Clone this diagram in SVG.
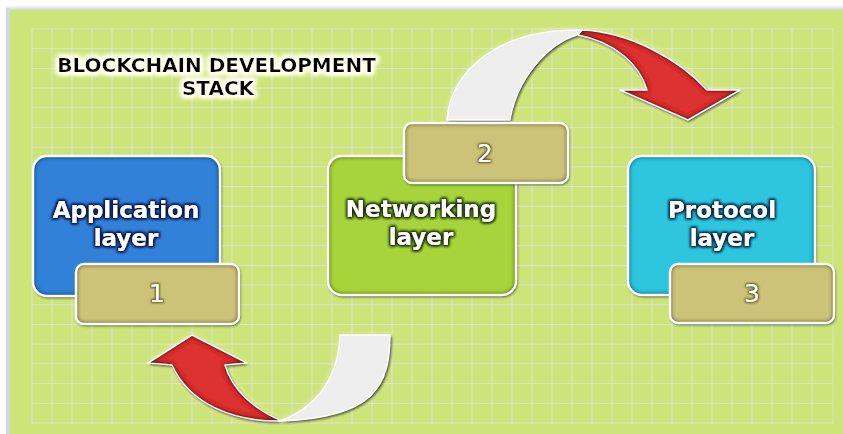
<svg xmlns="http://www.w3.org/2000/svg" width="843" height="434" viewBox="0 0 843 434">
  <defs>
    <style>
      .grid line { stroke: #e2e3ee; stroke-width: 1; opacity: 0.75; }
      .rim { fill: none; stroke: #ffffff; stroke-width: 2.5; }
      .shade { fill: #000000; opacity: 0.8; }
      .label { font-family: "DejaVu Sans", "Liberation Sans", sans-serif; font-weight: bold; font-size: 23px; fill: #ffffff; text-anchor: middle; }
      .num { font-family: "DejaVu Sans", "Liberation Sans", sans-serif; font-size: 25px; fill: #ffffff; text-anchor: middle; }
      .title { font-family: "DejaVu Sans", "Liberation Sans", sans-serif; font-weight: bold; font-size: 20px; fill: #000000; text-anchor: middle; }
      .band { fill: #eeeeee; stroke: #ffffff; stroke-width: 1.5; stroke-linejoin: round; }
    </style>
    <!-- inner darkening along the edge of a filled shape -->
    <filter id="inset" x="-10%" y="-10%" width="120%" height="120%">
      <feFlood flood-color="#000000" flood-opacity="1"/>
      <feComposite in2="SourceAlpha" operator="out"/>
      <feGaussianBlur stdDeviation="2.4"/>
      <feComposite in2="SourceAlpha" operator="in" result="edge"/>
      <feMerge>
        <feMergeNode in="SourceGraphic"/>
        <feMergeNode in="edge"/>
        <feMergeNode in="edge"/>
      </feMerge>
    </filter>
    <filter id="softShadow" x="-10%" y="-10%" width="120%" height="120%">
      <feGaussianBlur stdDeviation="1.5"/>
    </filter>
    <filter id="paleHalo" x="-10%" y="-10%" width="120%" height="120%">
      <feGaussianBlur stdDeviation="3"/>
    </filter>
    <!-- dark outline glows behind white labels -->
    <filter id="glowDarkGreen" x="-10%" y="-20%" width="120%" height="140%">
      <feMorphology in="SourceAlpha" operator="dilate" radius="1.3" result="d"/>
      <feGaussianBlur in="d" stdDeviation="1.6" result="b"/>
      <feFlood flood-color="#1c3300" result="c"/>
      <feComposite in="c" in2="b" operator="in" result="g"/>
      <feMerge><feMergeNode in="g"/><feMergeNode in="g"/><feMergeNode in="SourceGraphic"/></feMerge>
    </filter>
    <filter id="glowNavy" x="-10%" y="-20%" width="120%" height="140%">
      <feMorphology in="SourceAlpha" operator="dilate" radius="1.3" result="d"/>
      <feGaussianBlur in="d" stdDeviation="1.6" result="b"/>
      <feFlood flood-color="#061846" result="c"/>
      <feComposite in="c" in2="b" operator="in" result="g"/>
      <feMerge><feMergeNode in="g"/><feMergeNode in="g"/><feMergeNode in="SourceGraphic"/></feMerge>
    </filter>
    <filter id="glowTeal" x="-10%" y="-20%" width="120%" height="140%">
      <feMorphology in="SourceAlpha" operator="dilate" radius="1.3" result="d"/>
      <feGaussianBlur in="d" stdDeviation="1.6" result="b"/>
      <feFlood flood-color="#052a45" result="c"/>
      <feComposite in="c" in2="b" operator="in" result="g"/>
      <feMerge><feMergeNode in="g"/><feMergeNode in="g"/><feMergeNode in="SourceGraphic"/></feMerge>
    </filter>
    <filter id="glowOlive" x="-20%" y="-20%" width="140%" height="140%">
      <feMorphology in="SourceAlpha" operator="dilate" radius="0.6" result="d"/>
      <feGaussianBlur in="d" stdDeviation="1.2" result="b"/>
      <feFlood flood-color="#4a4010" flood-opacity="0.85" result="c"/>
      <feComposite in="c" in2="b" operator="in" result="g"/>
      <feMerge><feMergeNode in="g"/><feMergeNode in="SourceGraphic"/></feMerge>
    </filter>
    <!-- white halo behind the black heading -->
    <filter id="glowWhite" x="-10%" y="-30%" width="120%" height="160%">
      <feMorphology in="SourceAlpha" operator="dilate" radius="2.2" result="d"/>
      <feGaussianBlur in="d" stdDeviation="2.5" result="b"/>
      <feFlood flood-color="#fffff0" result="c"/>
      <feComposite in="c" in2="b" operator="in" result="g"/>
      <feMerge><feMergeNode in="g"/><feMergeNode in="g"/><feMergeNode in="g"/><feMergeNode in="SourceGraphic"/></feMerge>
    </filter>
    <linearGradient id="topEdge" x1="0" y1="0" x2="0" y2="1">
      <stop offset="0" stop-color="#ffffff"/>
      <stop offset="1" stop-color="#c9ccd4"/>
    </linearGradient>
  </defs>

  <!-- page frame -->
  <rect x="0" y="0" width="843" height="434" fill="#ffffff"/>
  <rect x="6" y="5" width="837" height="6" fill="url(#topEdge)"/>
  <rect x="6" y="8" width="4" height="426" fill="#d3d7e0"/>
  <rect x="10" y="10" width="833" height="424" fill="#cde479"/>

  <!-- background grid -->
  <g class="grid">
    <line x1="32" y1="29" x2="32" y2="424"/><line x1="52" y1="29" x2="52" y2="424"/><line x1="72" y1="29" x2="72" y2="424"/><line x1="92" y1="29" x2="92" y2="424"/>
    <line x1="112" y1="29" x2="112" y2="424"/><line x1="132" y1="29" x2="132" y2="424"/><line x1="152" y1="29" x2="152" y2="424"/><line x1="172" y1="29" x2="172" y2="424"/>
    <line x1="192" y1="29" x2="192" y2="424"/><line x1="212" y1="29" x2="212" y2="424"/><line x1="232" y1="29" x2="232" y2="424"/><line x1="252" y1="29" x2="252" y2="424"/>
    <line x1="272" y1="29" x2="272" y2="424"/><line x1="292" y1="29" x2="292" y2="424"/><line x1="312" y1="29" x2="312" y2="424"/><line x1="332" y1="29" x2="332" y2="424"/>
    <line x1="352" y1="29" x2="352" y2="424"/><line x1="372" y1="29" x2="372" y2="424"/><line x1="392" y1="29" x2="392" y2="424"/><line x1="412" y1="29" x2="412" y2="424"/>
    <line x1="432" y1="29" x2="432" y2="424"/><line x1="452" y1="29" x2="452" y2="424"/><line x1="472" y1="29" x2="472" y2="424"/><line x1="492" y1="29" x2="492" y2="424"/>
    <line x1="512" y1="29" x2="512" y2="424"/><line x1="532" y1="29" x2="532" y2="424"/><line x1="552" y1="29" x2="552" y2="424"/><line x1="572" y1="29" x2="572" y2="424"/>
    <line x1="592" y1="29" x2="592" y2="424"/><line x1="612" y1="29" x2="612" y2="424"/><line x1="632" y1="29" x2="632" y2="424"/><line x1="652" y1="29" x2="652" y2="424"/>
    <line x1="672" y1="29" x2="672" y2="424"/><line x1="692" y1="29" x2="692" y2="424"/><line x1="712" y1="29" x2="712" y2="424"/><line x1="732" y1="29" x2="732" y2="424"/>
    <line x1="752" y1="29" x2="752" y2="424"/><line x1="772" y1="29" x2="772" y2="424"/><line x1="792" y1="29" x2="792" y2="424"/><line x1="812" y1="29" x2="812" y2="424"/>
    <line x1="833" y1="29" x2="833" y2="424"/>
    <line x1="32" y1="29" x2="833" y2="29"/><line x1="32" y1="48.7" x2="833" y2="48.7"/><line x1="32" y1="68.4" x2="833" y2="68.4"/><line x1="32" y1="88.1" x2="833" y2="88.1"/>
    <line x1="32" y1="107.8" x2="833" y2="107.8"/><line x1="32" y1="127.5" x2="833" y2="127.5"/><line x1="32" y1="147.2" x2="833" y2="147.2"/><line x1="32" y1="166.9" x2="833" y2="166.9"/>
    <line x1="32" y1="186.6" x2="833" y2="186.6"/><line x1="32" y1="206.3" x2="833" y2="206.3"/><line x1="32" y1="226" x2="833" y2="226"/><line x1="32" y1="245.7" x2="833" y2="245.7"/>
    <line x1="32" y1="265.4" x2="833" y2="265.4"/><line x1="32" y1="285.1" x2="833" y2="285.1"/><line x1="32" y1="304.8" x2="833" y2="304.8"/><line x1="32" y1="324.5" x2="833" y2="324.5"/>
    <line x1="32" y1="344.2" x2="833" y2="344.2"/><line x1="32" y1="363.9" x2="833" y2="363.9"/><line x1="32" y1="383.6" x2="833" y2="383.6"/><line x1="32" y1="403.3" x2="833" y2="403.3"/>
    <line x1="32" y1="423" x2="833" y2="423"/>
  </g>

  <!-- heading -->
  <g id="title" filter="url(#glowWhite)">
    <text class="title" x="216.5" y="72">BLOCKCHAIN DEVELOPMENT</text>
    <text class="title" x="218" y="95">STACK</text>
  </g>

  <!-- curved connectors between the layers -->
  <g id="connectors">
    <!-- upper: Networking → Protocol -->
    <g>
      <path d="M447,120 C450,70 500,28 583,30 L577,35 C548,44 517,78 510,120 Z M582,30 C630,32 680,60 707,90 L740,90 L688,120 L620,90 L647,90 C640,65 615,42 578,35 Z" fill="#fbfbd0" opacity="0.7" filter="url(#paleHalo)"/>
      <path d="M447,120 C450,70 500,28 583,30 L577,35 C548,44 517,78 510,120 Z" class="shade" transform="translate(1.5,1.5)" filter="url(#softShadow)"/>
      <path d="M447,120 C450,70 500,28 583,30 L577,35 C548,44 517,78 510,120 Z" class="band"/>
      <path d="M582,30 C630,32 680,60 707,90 L740,90 L688,120 L620,90 L647,90 C640,65 615,42 578,35 Z" class="shade" transform="translate(1,1.5)" filter="url(#softShadow)"/>
      <path d="M582,30 C630,32 680,60 707,90 L740,90 L688,120 L620,90 L647,90 C640,65 615,42 578,35 Z" fill="#dc3232" filter="url(#inset)"/>
      <path d="M582,30 C630,32 680,60 707,90 L740,90 L688,120 L620,90 L647,90 C640,65 615,42 578,35 Z" fill="none" stroke="#ffffff" stroke-width="1.5" stroke-linejoin="round"/>
    </g>
    <!-- lower: Networking → Application -->
    <g>
      <path d="M340,335 L390,335 C390,385 375,418 280,421 C310,410 338,385 340,335 Z M282,421 C235,422 190,405 172,365 L148,363 L192,335 L247,363 L225,365 C232,390 255,410 282,421 Z" fill="#fbfbd0" opacity="0.7" filter="url(#paleHalo)"/>
      <path d="M340,335 L390,335 C390,385 375,418 280,421 C310,410 338,385 340,335 Z" class="shade" transform="translate(1.5,1.5)" filter="url(#softShadow)"/>
      <path d="M340,335 L390,335 C390,385 375,418 280,421 C310,410 338,385 340,335 Z" class="band"/>
      <path d="M282,421 C235,422 190,405 172,365 L148,363 L192,335 L247,363 L225,365 C232,390 255,410 282,421 Z" class="shade" transform="translate(1,1.5)" filter="url(#softShadow)"/>
      <path d="M282,421 C235,422 190,405 172,365 L148,363 L192,335 L247,363 L225,365 C232,390 255,410 282,421 Z" fill="#dc3232" filter="url(#inset)"/>
      <path d="M282,421 C235,422 190,405 172,365 L148,363 L192,335 L247,363 L225,365 C232,390 255,410 282,421 Z" fill="none" stroke="#ffffff" stroke-width="1.5" stroke-linejoin="round"/>
    </g>
  </g>

  <!-- Application layer -->
  <g id="node-application">
    <rect class="shade" x="33" y="156" width="187" height="140" rx="14" transform="translate(1,1.5)" filter="url(#softShadow)"/>
    <rect x="33" y="156" width="187" height="140" rx="14" fill="#3181d9" filter="url(#inset)"/>
    <rect class="rim" x="33" y="156" width="187" height="140" rx="14"/>
    <g filter="url(#glowNavy)">
      <text class="label" x="126" y="218">Application</text>
      <text class="label" x="126" y="246">layer</text>
    </g>
  </g>
  <g id="badge-1">
    <rect class="shade" x="76" y="264" width="163" height="60" rx="8" transform="translate(1,1.5)" filter="url(#softShadow)"/>
    <rect x="76" y="264" width="163" height="60" rx="8" fill="#ccc378" filter="url(#inset)"/>
    <rect class="rim" x="76" y="264" width="163" height="60" rx="8"/>
    <text class="num" x="157" y="302" filter="url(#glowOlive)">1</text>
  </g>

  <!-- Networking layer -->
  <g id="node-networking">
    <rect class="shade" x="328" y="156" width="188" height="139" rx="14" transform="translate(1,1.5)" filter="url(#softShadow)"/>
    <rect x="328" y="156" width="188" height="139" rx="14" fill="#a8d43a" filter="url(#inset)"/>
    <rect class="rim" x="328" y="156" width="188" height="139" rx="14"/>
    <g filter="url(#glowDarkGreen)">
      <text class="label" x="421" y="217">Networking</text>
      <text class="label" x="421" y="245">layer</text>
    </g>
  </g>
  <g id="badge-2">
    <rect class="shade" x="404" y="123" width="164" height="60" rx="8" transform="translate(1,1.5)" filter="url(#softShadow)"/>
    <rect x="404" y="123" width="164" height="60" rx="8" fill="#ccc378" filter="url(#inset)"/>
    <rect class="rim" x="404" y="123" width="164" height="60" rx="8"/>
    <text class="num" x="485" y="162" filter="url(#glowOlive)">2</text>
  </g>

  <!-- Protocol layer -->
  <g id="node-protocol">
    <rect class="shade" x="628" y="156" width="187" height="139" rx="14" transform="translate(1,1.5)" filter="url(#softShadow)"/>
    <rect x="628" y="156" width="187" height="139" rx="14" fill="#2dc5de" filter="url(#inset)"/>
    <rect class="rim" x="628" y="156" width="187" height="139" rx="14"/>
    <g filter="url(#glowTeal)">
      <text class="label" x="722" y="218">Protocol</text>
      <text class="label" x="722" y="246">layer</text>
    </g>
  </g>
  <g id="badge-3">
    <rect class="shade" x="670" y="264" width="164" height="59" rx="8" transform="translate(1,1.5)" filter="url(#softShadow)"/>
    <rect x="670" y="264" width="164" height="59" rx="8" fill="#ccc378" filter="url(#inset)"/>
    <rect class="rim" x="670" y="264" width="164" height="59" rx="8"/>
    <text class="num" x="752" y="302" filter="url(#glowOlive)">3</text>
  </g>
</svg>
